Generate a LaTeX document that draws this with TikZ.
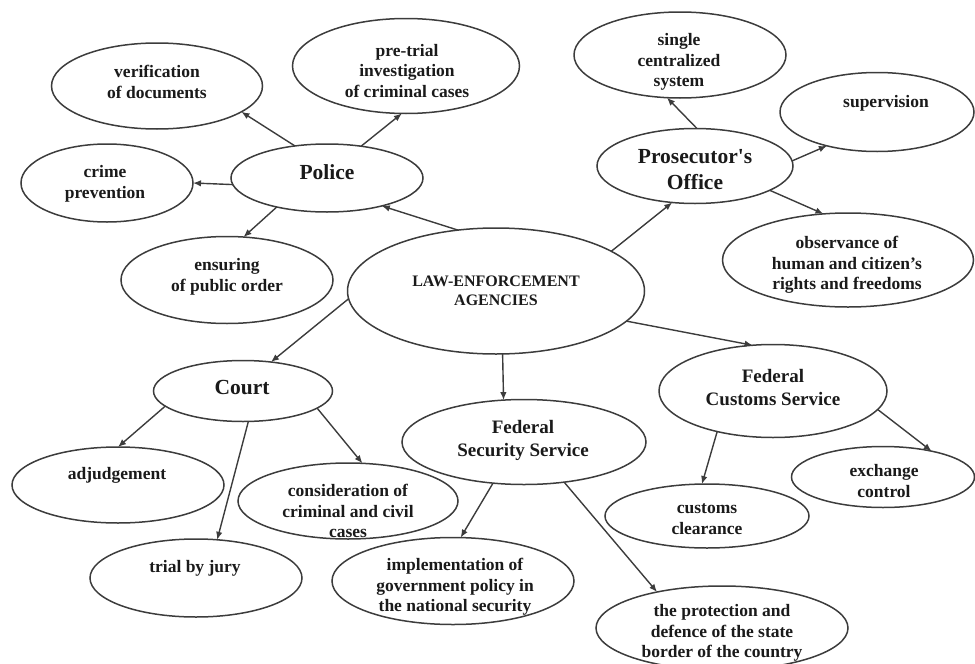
\documentclass[tikz,border=0pt]{standalone}
\usepackage{fontspec}
\setmainfont{Liberation Serif}
\usetikzlibrary{shapes.geometric,arrows.meta}
\definecolor{ln}{HTML}{3C3C3C}
\definecolor{tx}{HTML}{1A1A1A}
\tikzset{
  oval/.style n args={2}{ellipse, draw=ln, line width=1.5pt, inner sep=0pt, outer sep=0pt, minimum width=#1pt, minimum height=#2pt},
  txt/.style={text=tx, align=center, inner sep=0pt, font=\bfseries\fontsize{17.5}{20.5}\selectfont},
  bigtxt/.style={text=tx, align=center, inner sep=0pt, font=\bfseries\fontsize{21.5}{26}\selectfont},
  midtxt/.style={text=tx, align=center, inner sep=0pt, font=\bfseries\fontsize{19}{23}\selectfont},
  lawtxt/.style={text=tx, align=center, inner sep=0pt, font=\bfseries\fontsize{16}{19}\selectfont},
  arr/.style={draw=ln, line width=1.4pt, -{Latex[length=8pt,width=6.5pt]}}
}
\begin{document}
\begin{tikzpicture}[x=1pt,y=-1pt]
\useasboundingbox (0,0) rectangle (975,664);
% ellipses
\node[oval={297}{126}] (law) at (496,291) {};
\node[oval={192}{68}] (police) at (327,178) {};
\node[oval={211}{86}] (verif) at (157,86) {};
\node[oval={227}{95}] (pretrial) at (406,66) {};
\node[oval={172}{78}] (crime) at (107,183) {};
\node[oval={212}{87}] (ensur) at (227,280) {};
\node[oval={196}{75}] (pros) at (695,166) {};
\node[oval={212}{86}] (single) at (680,55) {};
\node[oval={194}{79}] (superv) at (877,112) {};
\node[oval={251}{94}] (observ) at (848,260) {};
\node[oval={179}{61}] (court) at (243,391) {};
\node[oval={212}{76}] (adj) at (118,485) {};
\node[oval={220}{76}] (consid) at (348,501) {};
\node[oval={212}{78}] (trial) at (196,578) {};
\node[oval={244}{85}] (fss) at (524,442) {};
\node[oval={242}{87}] (impl) at (453,581) {};
\node[oval={228}{93}] (fcs) at (773,391) {};
\node[oval={183}{61}] (exch) at (883,477) {};
\node[oval={204}{64}] (cust) at (707,516) {};
\node[oval={252}{84}] (prot) at (722,628) {};
% texts
\node[lawtxt] (tlaw) at (496,290.5) {LAW-ENFORCEMENT\\AGENCIES};
\node[bigtxt] (tpolice) at (327,172) {Police};
\node[txt] (tverif) at (157,82) {verification\\of documents};
\node[txt] (tpretrial) at (407,71) {pre-trial\\investigation\\of criminal cases};
\node[txt] (tcrime) at (105,184) {crime\\prevention};
\node[txt] (tensur) at (227,277) {ensuring\\of public order};
\node[bigtxt] (tpros) at (695,170) {Prosecutor\textquotesingle s\\Office};
\node[txt] (tsingle) at (679,62) {single\\centralized\\system};
\node[txt] (tsuperv) at (886,103) {supervision};
\node[txt] (tobserv) at (847,265) {observance of\\human and citizen’s\\rights and freedoms};
\node[bigtxt] (tcourt) at (242,388) {Court};
\node[txt] (tadj) at (117,475) {adjudgement};
\node[txt] (tconsid) at (348,511) {consideration of\\criminal and civil\\cases};
\node[txt] (ttrial) at (195,568) {trial by jury};
\node[midtxt] (tfss) at (523,440) {Federal\\Security Service};
\node[txt] (timpl) at (455,587) {implementation of\\government policy in\\the national security};
\node[midtxt] (tfcs) at (773,387.5) {Federal\\Customs Service};
\node[txt] (texch) at (884,481) {exchange\\control};
\node[txt] (tcust) at (707,519) {customs\\clearance};
\node[txt] (tprot) at (722,633) {the protection and\\defence of the state\\border of the country};
% connectors
\draw[arr] (law.122.6) -- (police.-27.3);
\draw[arr] (law.19) -- (pros.238.6);
\draw[arr] (law.183.5) -- (court.46.8);
\draw[arr] (law.276.3) -- (fss.116.6);
\draw[arr] (law.-13) -- (fcs.114.5);
\draw[arr] (police.135) -- (verif.-17.4);
\draw[arr] (police.43.4) -- (pretrial.265);
\draw[arr] (police.184) -- (crime.0);
\draw[arr] (police.210.6) -- (ensur.69.6);
\draw[arr] (pros.87) -- (single.253);
\draw[arr] (pros.3.5) -- (superv.214.8);
\draw[arr] (pros.-18) -- (observ.118);
\draw[arr] (court.191.6) -- (adj.90);
\draw[arr] (court.280) -- (trial.61);
\draw[arr] (court.-13.3) -- (consid.69);
\draw[arr] (fss.233) -- (impl.80.8);
\draw[arr] (fss.-45.7) -- (prot.151);
\draw[arr] (fcs.216.9) -- (cust.99);
\draw[arr] (fcs.-10) -- (exch.28);
\end{tikzpicture}
\end{document}
